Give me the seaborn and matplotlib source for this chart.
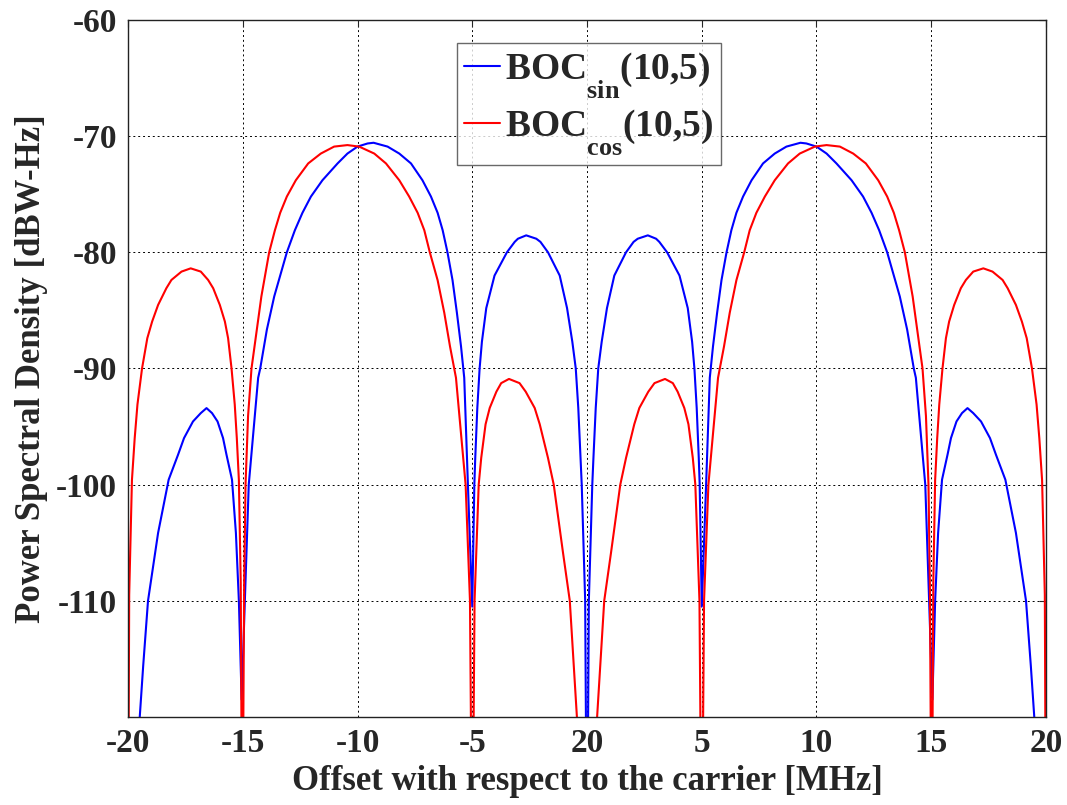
import matplotlib
matplotlib.use("Agg")
import matplotlib.pyplot as plt
import pandas as pd
import seaborn as sns

# Power spectral density of BOC(10,5) with sine and cosine phasing, in dBW-Hz.
# Samples below the axis floor (-120) mark the spectral nulls.
freq_sin_neg = [-19.55, -19.49, -19.34, -19.13, -18.69, -18.23, -17.82, -17.56, -17.17, -16.83,
                -16.58, -16.34, -16.10, -15.86, -15.71, -15.47, -15.30, -15.17, -15.05, -14.91,
                -14.74, -14.33, -14.24, -13.95, -13.63, -13.08, -12.73, -12.40, -12.03, -11.53,
                -10.87, -10.44, -10.00, -9.56, -9.30, -8.69, -8.18, -7.67, -7.17, -6.80,
                -6.51, -6.29, -6.08, -5.86, -5.67, -5.49, -5.35, -5.19, -5.00, -4.91,
                -4.87, -4.78, -4.68, -4.58, -4.39, -4.03, -3.49, -3.15, -3.01, -2.65,
                -2.21, -2.03, -1.70, -1.19, -0.87, -0.64, -0.49, -0.38, -0.28, -0.23,
                -0.08, 0.00]
psd_sin_neg = [-122.0, -120.0, -115.6, -110.0, -104.15, -99.57, -97.42, -95.99, -94.56, -93.84,
               -93.41, -93.84, -94.56, -95.99, -97.42, -99.57, -104.15, -110.0, -118.5, -110.0,
               -100.0, -90.8, -90.0, -86.65, -83.8, -80.0, -78.1, -76.6, -75.2, -73.8,
               -72.35, -71.5, -70.9, -70.63, -70.57, -70.9, -71.5, -72.35, -73.8, -75.2,
               -76.6, -78.1, -80.0, -82.4, -85.2, -88.1, -90.8, -100.0, -110.5, -100.0,
               -97.7, -93.4, -90.0, -87.7, -84.8, -82.0, -80.0, -79.1, -78.83, -78.54,
               -78.83, -79.1, -80.0, -82.0, -84.8, -87.7, -90.0, -93.4, -97.7, -100.0,
               -110.0, -135.0]
freq_sin_pos = [0.08, 0.23, 0.28, 0.38, 0.49, 0.64, 0.87, 1.19, 1.70, 2.03,
                2.21, 2.65, 3.01, 3.15, 3.49, 4.03, 4.39, 4.58, 4.68, 4.78,
                4.87, 4.91, 5.00, 5.19, 5.35, 5.49, 5.67, 5.86, 6.08, 6.29,
                6.51, 6.80, 7.17, 7.67, 8.18, 8.69, 9.30, 9.56, 10.00, 10.44,
                10.87, 11.53, 12.03, 12.40, 12.73, 13.08, 13.63, 13.95, 14.24, 14.33,
                14.74, 14.91, 15.05, 15.17, 15.30, 15.47, 15.71, 15.86, 16.10, 16.34,
                16.58, 16.83, 17.17, 17.56, 17.82, 18.23, 18.69, 19.13, 19.34, 19.49,
                19.55]
psd_sin_pos = [-110.0, -100.0, -97.7, -93.4, -90.0, -87.7, -84.8, -82.0, -80.0, -79.1,
               -78.83, -78.54, -78.83, -79.1, -80.0, -82.0, -84.8, -87.7, -90.0, -93.4,
               -97.7, -100.0, -110.5, -100.0, -90.8, -88.1, -85.2, -82.4, -80.0, -78.1,
               -76.6, -75.2, -73.8, -72.35, -71.5, -70.9, -70.57, -70.63, -70.9, -71.5,
               -72.35, -73.8, -75.2, -76.6, -78.1, -80.0, -83.8, -86.65, -90.0, -90.8,
               -100.0, -110.0, -118.5, -110.0, -104.15, -99.57, -97.42, -95.99, -94.56, -93.84,
               -93.41, -93.84, -94.56, -95.99, -97.42, -99.57, -104.15, -110.0, -115.6, -120.0,
               -122.0]

freq_cos_neg = [-20.00, -19.95, -19.83, -19.71, -19.59, -19.39, -19.16, -18.95, -18.69, -18.33,
                -18.11, -17.67, -17.27, -16.83, -16.51, -16.29, -16.00, -15.78, -15.64, -15.49,
                -15.35, -15.26, -15.17, -15.09, -15.02, -14.94, -14.88, -14.77, -14.62, -14.39,
                -14.19, -13.85, -13.60, -13.37, -13.08, -12.69, -12.15, -11.60, -11.02, -10.44,
                -9.93, -9.27, -8.76, -8.18, -7.75, -7.38, -7.09, -6.85, -6.51, -6.22,
                -5.97, -5.71, -5.29, -5.10, -5.00, -4.90, -4.72, -4.61, -4.42, -4.24,
                -3.95, -3.74, -3.40, -2.94, -2.67, -2.28, -2.06, -1.70, -1.45, -1.05,
                -0.75, -0.44, 0.00]
psd_cos_neg = [-135.0, -109.5, -99.6, -96.0, -93.1, -90.0, -87.39, -85.96, -84.53, -83.09,
               -82.38, -81.66, -81.38, -81.66, -82.38, -83.09, -84.53, -85.96, -87.39, -90.0,
               -93.1, -96.0, -99.6, -108.4, -135.0, -108.4, -100.0, -94.1, -90.0, -86.7,
               -83.8, -80.0, -78.1, -76.6, -75.2, -73.8, -72.35, -71.5, -70.9, -70.77,
               -70.9, -71.5, -72.35, -73.8, -75.2, -76.6, -78.1, -80.0, -82.4, -85.2,
               -88.1, -90.8, -100.0, -110.0, -135.0, -110.0, -100.0, -97.7, -94.8, -93.4,
               -92.0, -91.26, -90.9, -91.26, -92.0, -93.4, -94.8, -97.7, -100.0, -105.8,
               -110.0, -120.0, -140.0]
freq_cos_pos = [0.44, 0.75, 1.05, 1.45, 1.70, 2.06, 2.28, 2.67, 2.94, 3.40,
                3.74, 3.95, 4.24, 4.42, 4.61, 4.72, 4.90, 5.00, 5.10, 5.29,
                5.71, 5.97, 6.22, 6.51, 6.85, 7.09, 7.38, 7.75, 8.18, 8.76,
                9.27, 9.93, 10.44, 11.02, 11.60, 12.15, 12.69, 13.08, 13.37, 13.60,
                13.85, 14.19, 14.39, 14.62, 14.77, 14.88, 14.94, 15.02, 15.09, 15.17,
                15.26, 15.35, 15.49, 15.64, 15.78, 16.00, 16.29, 16.51, 16.83, 17.27,
                17.67, 18.11, 18.33, 18.69, 18.95, 19.16, 19.39, 19.59, 19.71, 19.83,
                19.95, 20.00]
psd_cos_pos = [-120.0, -110.0, -105.8, -100.0, -97.7, -94.8, -93.4, -92.0, -91.26, -90.9,
               -91.26, -92.0, -93.4, -94.8, -97.7, -100.0, -110.0, -135.0, -110.0, -100.0,
               -90.8, -88.1, -85.2, -82.4, -80.0, -78.1, -76.6, -75.2, -73.8, -72.35,
               -71.5, -70.9, -70.77, -70.9, -71.5, -72.35, -73.8, -75.2, -76.6, -78.1,
               -80.0, -83.8, -86.7, -90.0, -94.1, -100.0, -108.4, -135.0, -108.4, -99.6,
               -96.0, -93.1, -90.0, -87.39, -85.96, -84.53, -83.09, -82.38, -81.66, -81.38,
               -81.66, -82.38, -83.09, -84.53, -85.96, -87.39, -90.0, -93.1, -96.0, -99.6,
               -109.5, -135.0]

label_sin = r"BOC$_{\mathrm{sin}}$(10,5)"
label_cos = r"BOC$_{\mathrm{cos}}$(10,5)"

x_ticks = [-20, -15, -10, -5, 0, 5, 10, 15, 20]
x_tick_labels = ["-20", "-15", "-10", "-5", "20", "5", "10", "15", "20"]
y_ticks = [-110, -100, -90, -80, -70, -60]
y_tick_labels = ["-110", "-100", "-90", "-80", "-70", "-60"]

df = pd.concat([
    pd.DataFrame({"freq": freq_sin_neg + freq_sin_pos,
                  "psd": psd_sin_neg + psd_sin_pos, "signal": label_sin}),
    pd.DataFrame({"freq": freq_cos_neg + freq_cos_pos,
                  "psd": psd_cos_neg + psd_cos_pos, "signal": label_cos}),
], ignore_index=True)

sns.set_style("white")
plt.rcParams["font.family"] = ["Liberation Serif", "DejaVu Serif"]
plt.rcParams["font.weight"] = "bold"
plt.rcParams["axes.unicode_minus"] = False
plt.rcParams["mathtext.fontset"] = "custom"
plt.rcParams["mathtext.rm"] = "Liberation Serif:bold"
plt.rcParams["mathtext.bf"] = "Liberation Serif:bold"
plt.rcParams["mathtext.it"] = "Liberation Serif:bold"

# drop the legend subscripts lower below the baseline
try:
    from matplotlib import _mathtext
    _mathtext.FontConstantsBase.sub1 = 1.1
except Exception:
    pass

fig = plt.figure(figsize=(10.67, 8.05), dpi=100)
ax = fig.add_axes([0.12, 0.1093, 0.8603, 0.8659])

sns.lineplot(data=df, x="freq", y="psd", hue="signal",
             palette={label_sin: "#0000ff", label_cos: "#ff0000"},
             estimator=None, sort=False, linewidth=1.5, ax=ax)

ax.set_xlim(-20, 20)
ax.set_ylim(-120, -60)
ax.set_xticks(x_ticks)
ax.set_xticklabels(x_tick_labels)
ax.set_yticks(y_ticks)
ax.set_yticklabels(y_tick_labels)
ax.grid(True, linestyle=(0, (2, 3)), color="black", linewidth=0.7)
ax.tick_params(axis="both", direction="in", length=5, labelsize=24,
               top=True, right=True, pad=8)
for lbl in ax.get_xticklabels() + ax.get_yticklabels():
    lbl.set_fontweight("bold")
for sp in ax.spines.values():
    sp.set_color("#222222")
    sp.set_linewidth(1.0)

ax.set_xlabel("Offset with respect to the carrier [MHz]", fontsize=25,
              fontweight="bold", labelpad=4)
ax.set_ylabel("Power Spectral Density [dBW-Hz]", fontsize=25,
              fontweight="bold", labelpad=6)

handles, labels = ax.get_legend_handles_labels()
leg = ax.legend(handles, labels, loc="upper left", bbox_to_anchor=(0.358, 0.967),
                borderaxespad=0, frameon=True, fancybox=False, fontsize=27,
                handlelength=0.95, handletextpad=0.15, borderpad=0.2,
                labelspacing=0.15)
leg.get_frame().set_edgecolor("#444444")
leg.get_frame().set_linewidth(1.0)

fig.savefig("out.png", dpi=100)
